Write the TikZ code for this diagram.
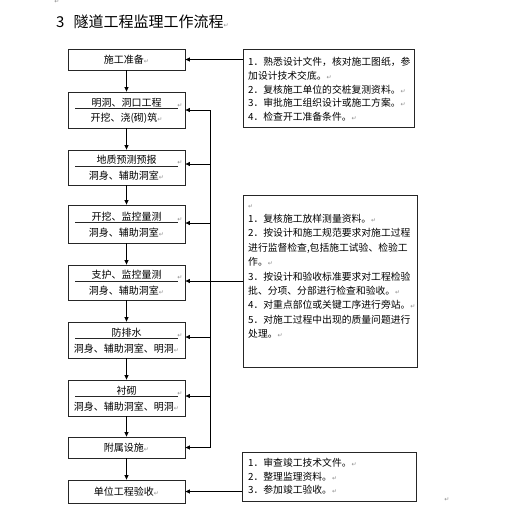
\documentclass[tikz,border=0pt]{standalone}
\usepackage{fontspec}
\setmainfont{Noto Sans CJK SC}
\newfontfamily\symfont{DejaVu Sans}
\usetikzlibrary{arrows.meta}
\newcommand\pmark{{\symfont\fontsize{6}{6}\selectfont\textcolor{black!45}{↵}}}
\newcommand\twobox[6]{%
  \node[box, minimum height=#3pt] (#1) at (126.5,#2) {};
  \draw[divl] (75,#2-1.5) -- (178,#2-1.5);
  \node[lt] (#1t) at (126.5,#2-7.5) {#4};
  \node[lt] (#1s) at (126.5,#2+8.5) {#5\pmark};
  \node[pm] (#1m) at (180,#2-4.5) {↵};
  \coordinate (#1f) at (210,#6);
}
\begin{document}
\begin{tikzpicture}[x=1pt,y=-1pt,
  box/.style={draw=black!85, line width=0.8pt, minimum width=117pt, inner sep=0pt},
  rbox/.style={draw=black!85, line width=0.8pt, inner sep=0pt},
  lt/.style={font=\fontsize{10}{12}\selectfont, inner sep=0pt},
  rt/.style={align=left, inner sep=0pt, anchor=north west},
  pm/.style={font=\symfont\fontsize{6}{6}\selectfont, text=black!45, inner sep=0pt},
  divl/.style={line width=0.7pt, black!85},
  ln/.style={line width=0.7pt},
  arr/.style={line width=0.7pt, -{Triangle[length=4.5pt,width=4pt]}}]
\useasboundingbox (0,0) rectangle (507,517);
\fill[white] (0,0) rectangle (507,517);

% title and stray marks
\node[pm] (m0) at (57,2) {↵};
\node[inner sep=0pt, anchor=west, font=\fontsize{15}{18}\selectfont] (title) at (56,21.5) {3\hspace{9pt}隧道工程监理工作流程\pmark};
\node[pm] (m9) at (447,500) {↵};

% left column
\node[box, minimum height=21pt, lt] (b1) at (126.5,59.5) {施工准备\pmark};
\twobox{b2}{110}{36}{明洞、洞口工程}{开挖、浇(砌)筑}{110}
\twobox{b3}{167.5}{35}{地质预测预报}{洞身、辅助洞室}{164}
\twobox{b4}{224}{38}{开挖、监控量测}{洞身、辅助洞室}{223}
\twobox{b5}{282.5}{35}{支护、监控量测}{洞身、辅助洞室}{281}
\twobox{b6}{340}{36}{防排水}{洞身、辅助洞室、明洞}{337}
\twobox{b7}{398}{36}{衬砌}{洞身、辅助洞室、明洞}{396}
\node[box, minimum height=21pt, lt] (b8) at (126.5,447.5) {附属设施\pmark};
\coordinate (b8f) at (210,447.5);
\node[box, minimum height=23pt, lt] (b9) at (126.5,491.5) {单位工程验收\pmark};

\draw[arr] (b1) -- (b2);
\draw[arr] (b2) -- (b3);
\draw[arr] (b3) -- (b4);
\draw[arr] (b4) -- (b5);
\draw[arr] (b5) -- (b6);
\draw[arr] (b6) -- (b7);
\draw[arr] (b7) -- (b8);
\draw[arr] (b8) -- (b9);

% feedback line
\draw[ln] (b2f) -- (b8f);
\draw[arr] (b2f) -- (b2f -| b2.east);
\draw[arr] (b3f) -- (b3f -| b3.east);
\draw[arr] (b4f) -- (b4f -| b4.east);
\draw[arr] (b6f) -- (b6f -| b6.east);
\draw[arr] (b7f) -- (b7f -| b7.east);
\draw[arr] (b8f) -- (b8f -| b8.east);

% right boxes
\node[rbox, minimum width=171pt, minimum height=78pt] (R1) at (328.5,88) {};
\node[rt, font=\fontsize{9.8}{13.75}\selectfont] (R1t) at (248,57.2) {1．熟悉设计文件，核对施工图纸，参\\加设计技术交底。\pmark\\2．复核施工单位的交桩复测资料。\pmark\\3．审批施工组织设计或施工方案。\pmark\\4．检查开工准备条件。\pmark};

\node[rbox, minimum width=174pt, minimum height=172pt] (R2) at (330,281) {};
\node[rt, font=\fontsize{9.8}{14.4}\selectfont] (R2t) at (248,200.2) {\vphantom{国}\pmark\\1．复核施工放样测量资料。\pmark\\2．按设计和施工规范要求对施工过程\\进行监督检查,包括施工试验、检验工\\作。\pmark\\3．按设计和验收标准要求对工程检验\\批、分项、分部进行检查和验收。\pmark\\4．对重点部位或关键工序进行旁站。\pmark\\5．对施工过程中出现的质量问题进行\\处理。\pmark};

\node[rbox, minimum width=174pt, minimum height=49pt] (R3) at (329,476.5) {};
\node[rt, font=\fontsize{9.8}{13.5}\selectfont] (R3t) at (248,458.2) {1．审查竣工技术文件。\pmark\\2．整理监理资料。\pmark\\3．参加竣工验收。\pmark};

\draw[arr] (R1.west |- b1.east) -- (b1.east);
\draw[arr] (R2.west) -- (R2.west -| b5.east);
\draw[arr] (R3.west |- b9.east) -- (b9.east);
\end{tikzpicture}
\end{document}
